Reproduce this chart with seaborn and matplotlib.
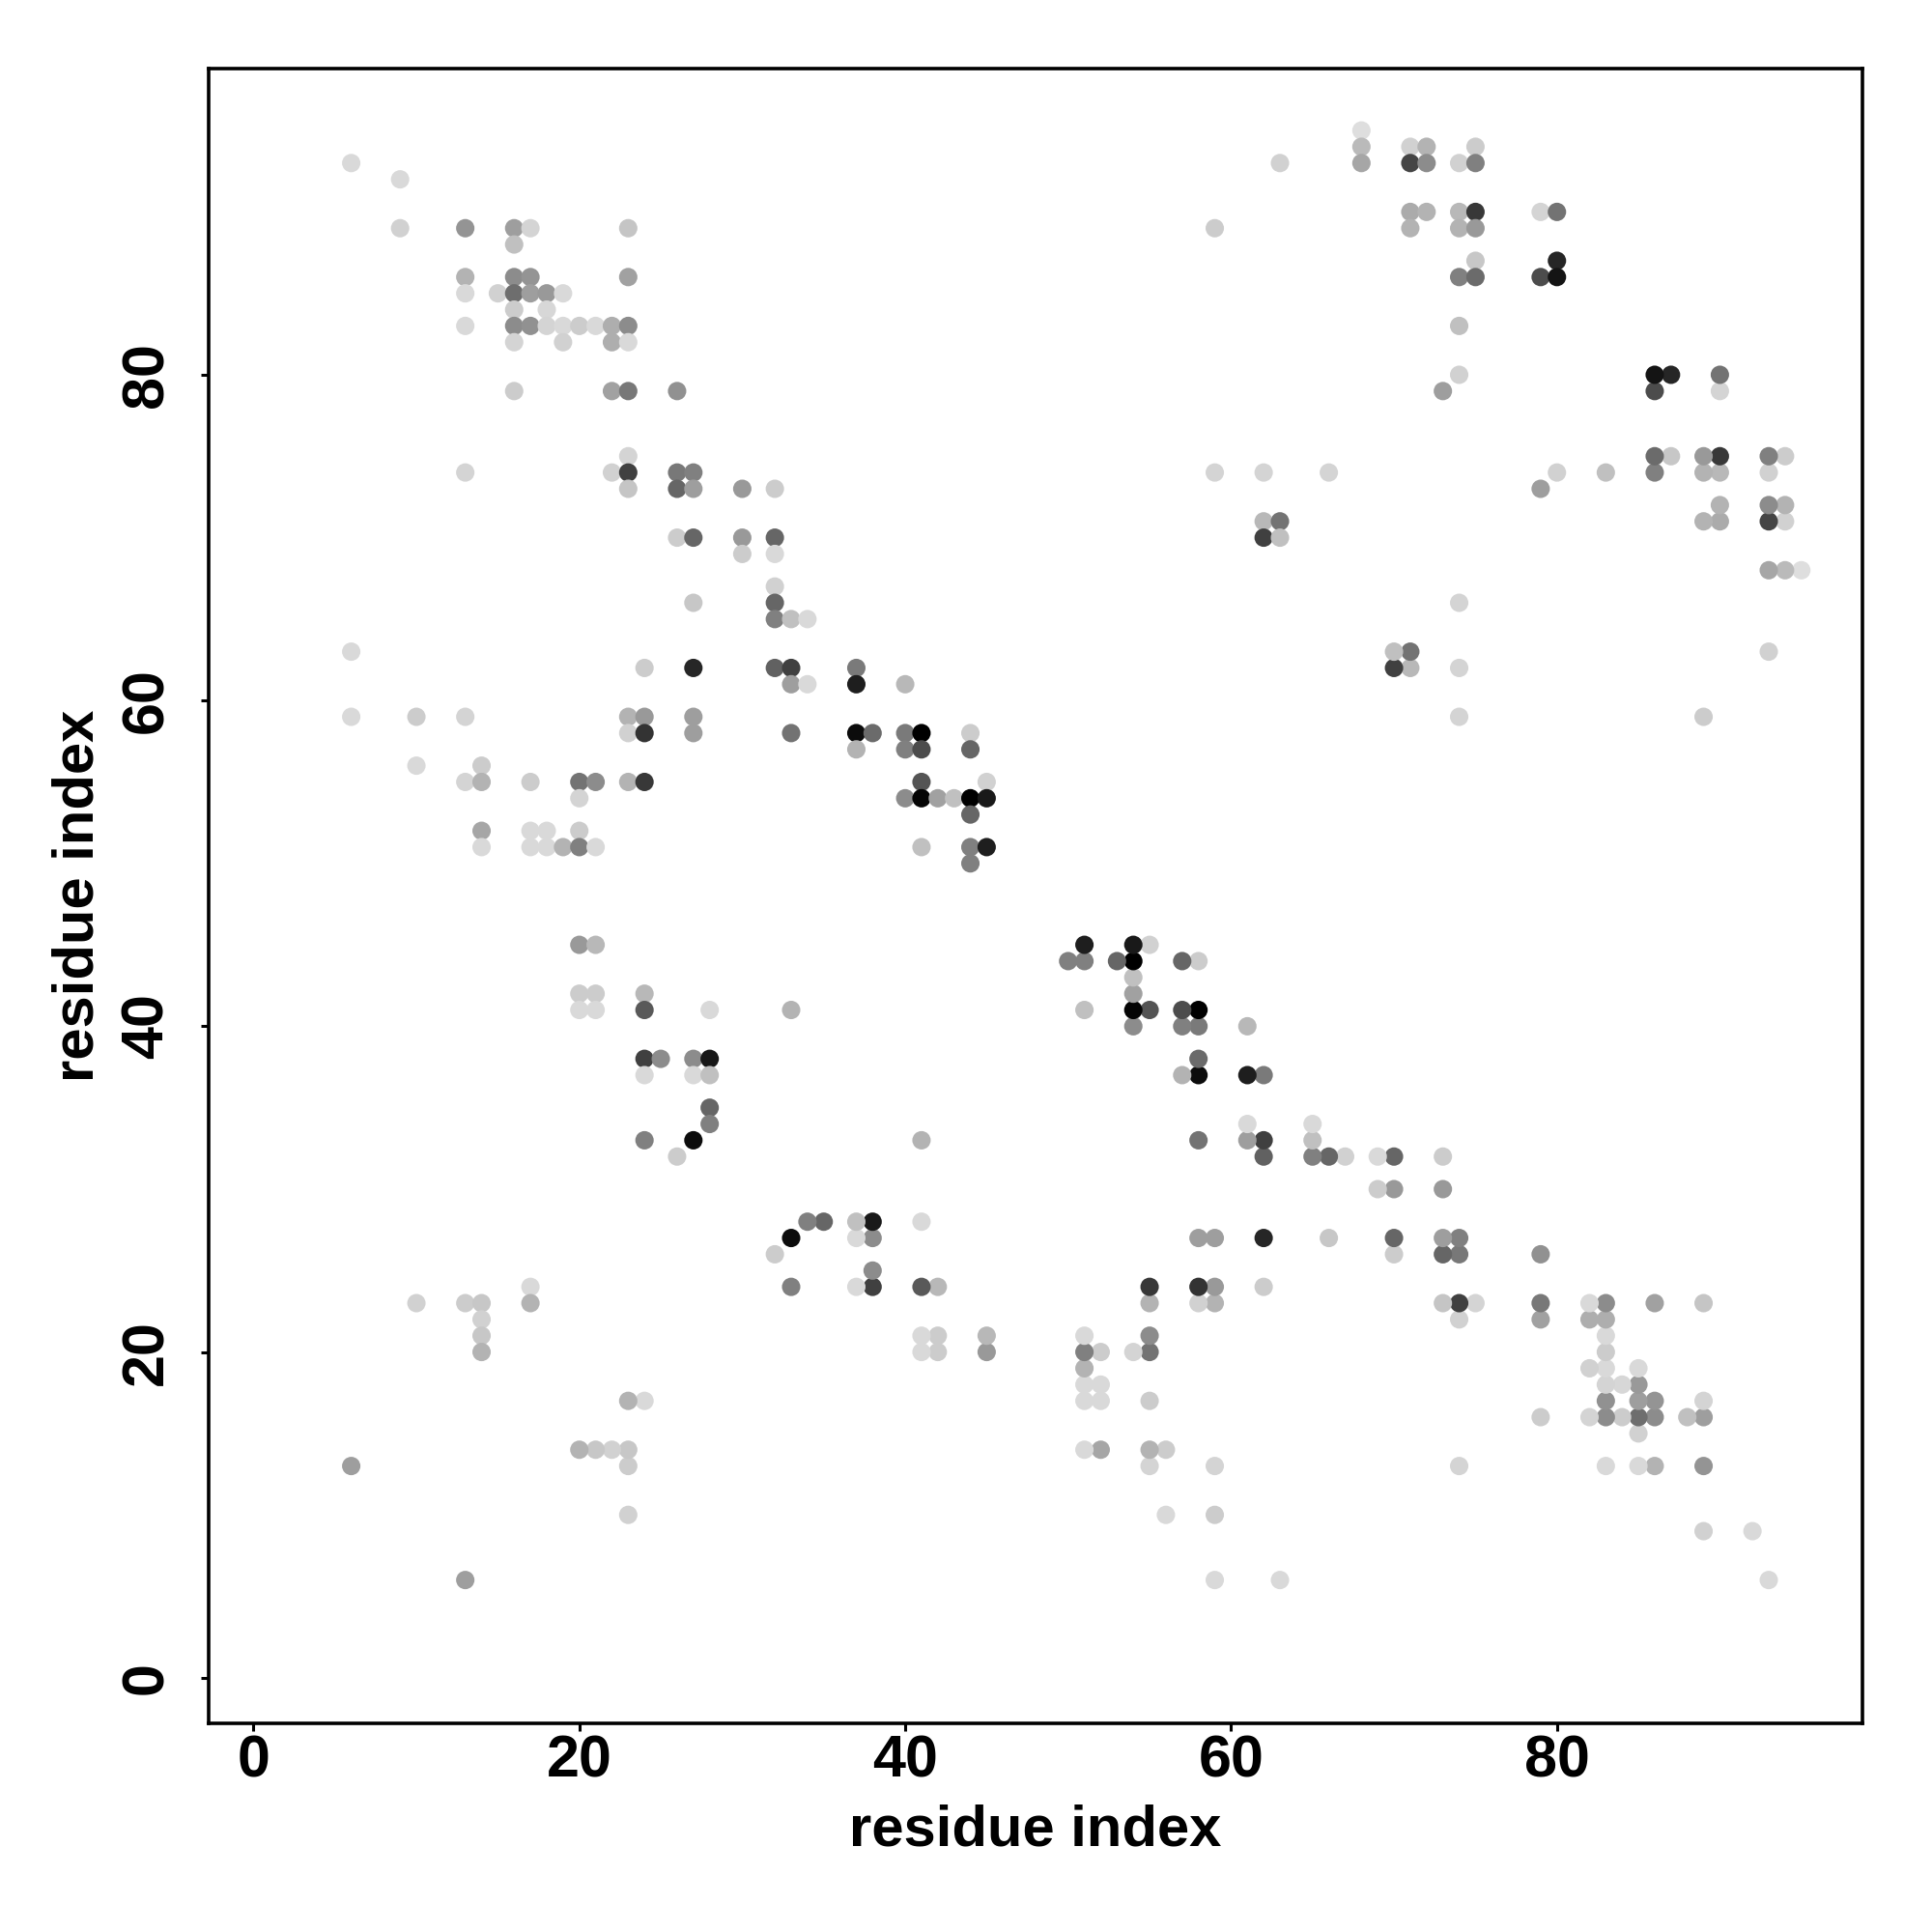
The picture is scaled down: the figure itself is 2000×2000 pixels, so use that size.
import pandas as pd
import matplotlib
matplotlib.use("Agg")
import matplotlib.pyplot as plt
import seaborn as sns

# contact map, stored as upper triangle: one row per higher residue
high = [95, 94, 93, 92, 90, 89, 88, 87, 86, 85, 84, 83, 82, 80, 79, 75, 74, 73,
        71, 70, 69, 67, 66, 65, 63, 62, 61, 59, 58, 57, 56, 55, 54, 53, 52, 51,
        50, 45, 42, 41, 38, 37, 35, 34, 33, 32, 24, 23, 22, 21, 20, 13]

low = [
    [68], [68, 71, 72, 75], [6, 63, 68, 71, 72, 74, 75], [9],
    [71, 72, 74, 75, 79, 80], [9, 13, 16, 17, 23, 59, 71, 74, 75], [16], [75, 80],
    [13, 16, 17, 23, 74, 75, 79, 80], [13, 15, 16, 17, 18, 19], [16, 18],
    [13, 16, 17, 18, 19, 20, 21, 22, 23, 74], [16, 19, 22, 23], [74],
    [16, 22, 23, 26, 73], [23], [13, 22, 23, 26, 27, 59, 62, 66], [23, 26, 27, 30, 32],
    [62, 63], [26, 27, 30, 32, 62, 63], [30, 32], [32], [27, 32], [32, 33, 34], [6],
    [24, 27, 32, 33, 37], [33, 34, 37, 40], [6, 10, 13, 23, 24, 27],
    [23, 24, 27, 33, 37, 38, 40, 41, 44], [37, 40, 41, 44], [10, 14],
    [13, 14, 17, 20, 21, 23, 24, 41, 45], [20, 40, 41, 42, 43, 44, 45], [44],
    [14, 17, 18, 20], [14, 17, 18, 19, 20, 21, 41, 44, 45], [44], [20, 21],
    [20, 21, 24], [20, 21, 24, 28, 33], [24, 25, 27, 28], [24, 27, 28], [28], [28],
    [24, 27], [26], [17], [10, 13, 14, 17], [14], [14], [14], [6],
]

shade = [
    [.87], [.73, .82, .70, .80], [.85, .82, .65, .27, .55, .82, .50], [.85],
    [.67, .70, .72, .22, .83, .45], [.82, .58, .62, .83, .77, .80, .70, .70, .60], [.75], [.78, .15],
    [.70, .55, .58, .63, .50, .42, .30, .08], [.85, .82, .43, .62, .60, .85], [.80, .84],
    [.85, .55, .57, .83, .85, .80, .85, .68, .55, .75], [.83, .82, .68, .85], [.82],
    [.80, .63, .47, .57, .62], [.83], [.83, .82, .25, .47, .50, .83, .83, .83], [.77, .40, .62, .60, .80],
    [.72, .45], [.80, .40, .60, .40, .25, .75], [.80, .85], [.82], [.78, .40], [.50, .75, .85], [.85],
    [.80, .15, .38, .25, .48], [.62, .85, .12, .72], [.85, .80, .83, .70, .60, .62],
    [.82, .20, .62, .45, .05, .42, .48, .00, .80], [.70, .50, .30, .40], [.85, .80],
    [.83, .70, .80, .45, .55, .70, .22, .33, .82], [.83, .55, .02, .63, .75, .00, .10], [.40],
    [.65, .85, .85, .80], [.85, .85, .85, .70, .50, .85, .75, .50, .12], [.50], [.60, .72],
    [.80, .80, .72], [.85, .85, .35, .85, .70], [.25, .55, .55, .10], [.85, .85, .75], [.40], [.50],
    [.50, .05], [.80], [.85], [.82, .80, .78, .70], [.82], [.78], [.70], [.62],
]

tick_vals = [0, 20, 40, 60, 80]

rows = []
for h, ls, gs in zip(high, low, shade):
    for l, g in zip(ls, gs):
        rows.append((l, h, g))
        rows.append((h, l, g))
df = pd.DataFrame(rows, columns=["i", "j", "shade"])

sns.set_style("white")
plt.rcParams["font.family"] = ["Liberation Sans", "DejaVu Sans"]
plt.rcParams["font.weight"] = "bold"

fig, ax = plt.subplots(figsize=(10, 10), dpi=200)
fig.subplots_adjust(left=0.108, right=0.964, top=0.9645, bottom=0.108)

sns.scatterplot(data=df, x="i", y="j", hue="shade", palette="gray", hue_norm=(0, 1),
                s=47, linewidth=0, legend=False, ax=ax)

ax.set_xlim(-2.75, 98.75)
ax.set_ylim(-2.8, 98.8)
ax.set_xticks(tick_vals)
ax.set_yticks(tick_vals)
ax.tick_params(axis="x", length=3.0, width=1.1, color="black", labelsize=22,
               labelcolor="black", bottom=True, pad=1)
ax.tick_params(axis="y", length=3.0, width=1.1, color="black", labelsize=22,
               labelcolor="black", left=True, pad=9.5)
plt.setp(ax.get_yticklabels(), rotation=90, va="center")

for s in ax.spines.values():
    s.set_linewidth(1.3)
    s.set_color("black")

ax.set_xlabel("residue index", fontsize=21.5, fontweight="bold", color="black", labelpad=5.5)
ax.set_ylabel("residue index", fontsize=21.5, fontweight="bold", color="black", labelpad=5.5)

fig.savefig("out.png", dpi=200, facecolor="white")
